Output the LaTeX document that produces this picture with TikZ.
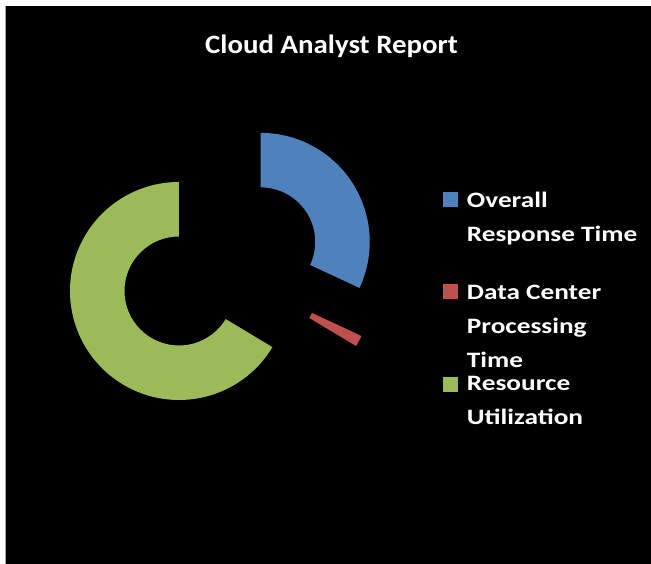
\documentclass[tikz,border=0pt]{standalone}
\usepackage{fontspec}
\setmainfont{Carlito}
\newfontfamily\titlefont{Carlito}[FakeStretch=1.09]
\newfontfamily\legendfont{Carlito}[FakeStretch=1.24]
\usepackage{tikz}
\definecolor{rtblue}{HTML}{4F81BD}
\definecolor{dcred}{HTML}{C0504D}
\definecolor{rugreen}{HTML}{9BBB59}
\newcommand{\donutpart}[3]{\begin{scope}[shift = {({(#1+#2)/2}:47.7)}]
\fill[#3] (#1:54.5) arc (#1:#2:54.5) -- (#2:109) arc (#2:#1:109) -- cycle;
\end{scope}}
\tikzset{
legkey/.style={minimum size=15bp, inner sep=0pt},
legtext/.style={text=white, anchor=base west, align=left, inner sep=0pt,
  font=\legendfont\fontsize{22bp}{34bp}\selectfont\bfseries}
}

\begin{document}
\begin{tikzpicture}[x=1bp,y=1bp]
\useasboundingbox (0,0) rectangle (651,564);
\fill[black] (6,0) rectangle (651,558);
\draw[gray!70, line width=1bp] (5.5,0) -- (5.5,558);

\node[text=white, anchor=base, inner sep=0pt,
  font=\titlefont\fontsize{26.5bp}{30bp}\selectfont\bfseries] (title) at (331.5,510) {Cloud Analyst Report};

% exploded doughnut
\begin{scope}[shift = {(220.5,296.5)}]
\donutpart{-25}{90}{rtblue}
\donutpart{-31}{-25}{dcred}
\donutpart{90}{329}{rugreen}
\end{scope}

% legend (base = last line)
\node[legkey, fill=rtblue] (k1) at (450.7,364) {};
\node[legtext] (l1) at (466.7,322.3) {Overall\\Response Time};
\node[legkey, fill=dcred] (k2) at (450.7,272.3) {};
\node[legtext] (l2) at (466.7,196) {Data Center\\Processing\\Time};
\node[legkey, fill=rugreen] (k3) at (450.7,179.8) {};
\node[legtext] (l3) at (466.7,139) {Resource\\Utilization};

\end{tikzpicture}
\end{document}
